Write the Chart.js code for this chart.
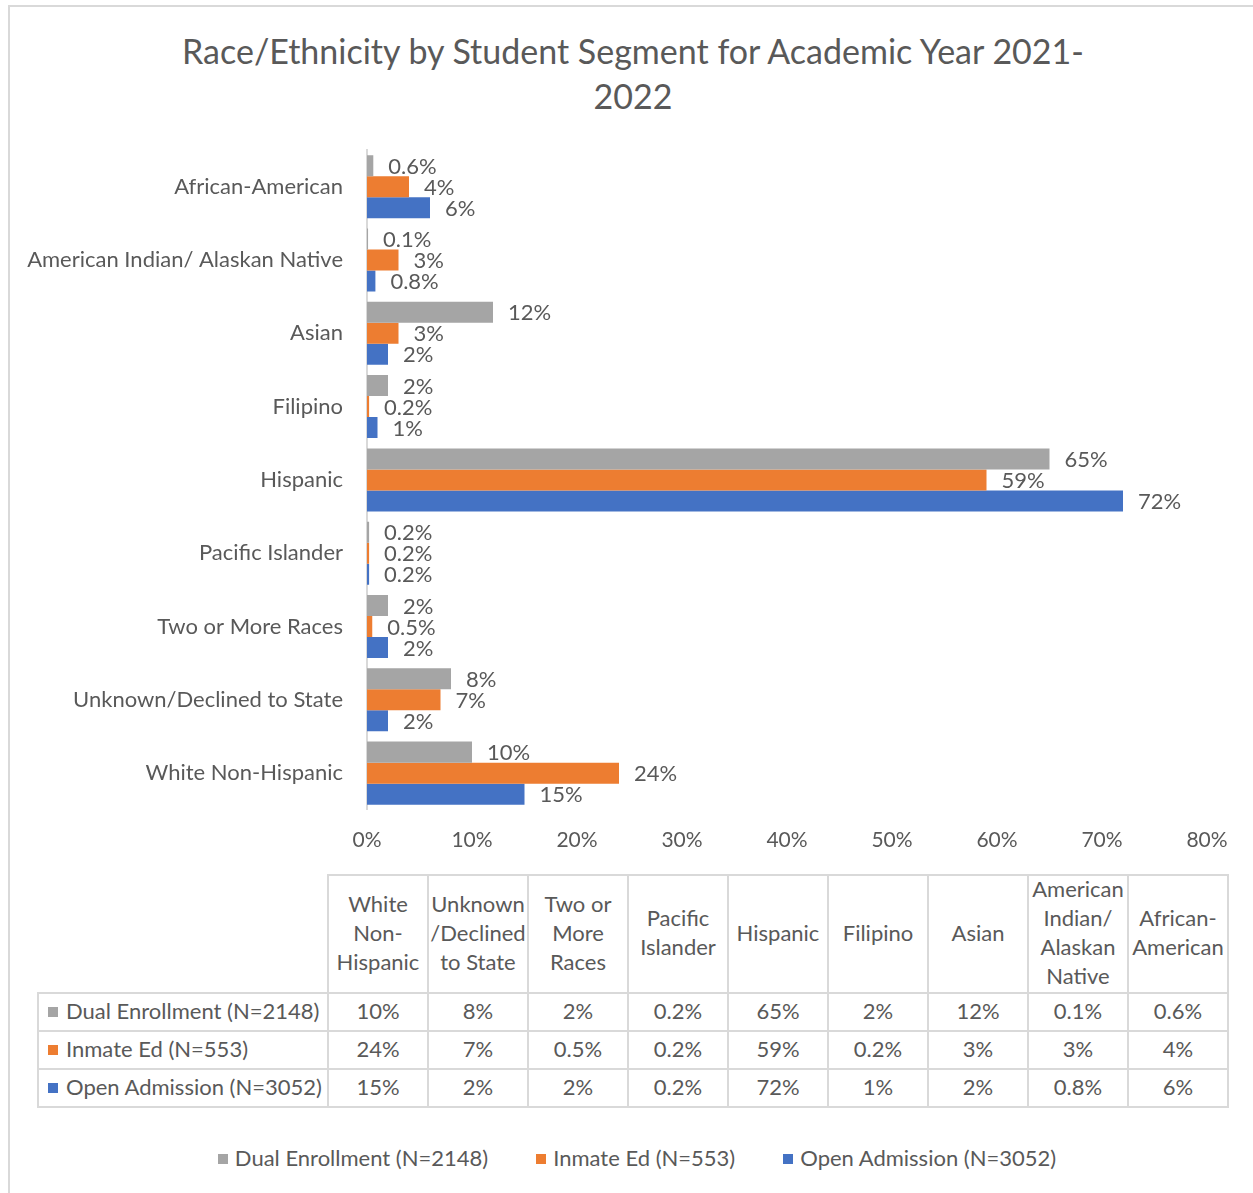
<!DOCTYPE html>
<html>
<head>
<meta charset="utf-8">
<title>Race/Ethnicity by Student Segment</title>
<script src="https://cdn.jsdelivr.net/npm/chart.js@4.4.1/dist/chart.umd.min.js"></script>
<style>
  body { margin: 0; background: #fff; overflow: hidden; font-family: Lato, sans-serif; color: #595959; }
  #frame { position: absolute; left: 8px; top: 5px; width: 1270px; height: 1220px; border: 2px solid #d9d9d9; box-sizing: border-box; }
  #chartTitle { position: absolute; left: 8px; top: 28px; width: 1250px; text-align: center; font-size: 34px; line-height: 45px; color: #595959; }
  #chartBox { position: absolute; left: 8px; top: 6px; width: 1250px; height: 865px; }
  #dataTable { position: absolute; left: 37px; top: 874px; border-collapse: collapse; table-layout: fixed; font-size: 22px; color: #595959; }
  #dataTable td { border: 2px solid #d9d9d9; padding: 0; text-align: center; white-space: nowrap; }
  #dataTable td > div { position: relative; top: -2px; }
  #dataTable tr.head td { height: 112px; line-height: 29px; }
  #dataTable tr.head td.corner { border-top: none; border-left: none; }
  #dataTable tr.row td { height: 36px; }
  #dataTable td.name { text-align: left; padding-left: 9px; }
  .mark { display: inline-block; width: 10px; height: 10px; margin-right: 8px; vertical-align: 2px; }
  #legend { position: absolute; left: 0; top: 1144px; width: 1274px; display: flex; justify-content: center; gap: 48px; font-size: 22px; color: #595959; }
  #legend .mark { margin-right: 7px; }
</style>
</head>
<body>
<div id="frame"></div>
<div id="chartTitle">Race/Ethnicity by Student Segment for Academic Year 2021-<br>2022</div>
<div id="chartBox"><canvas id="chart"></canvas></div>
<table id="dataTable"></table>
<div id="legend"></div>
<script>
// categories in data-table order (the bar axis is reversed so the last one sits on top)
const categories = ['White Non-Hispanic', 'Unknown/Declined to State', 'Two or More Races', 'Pacific Islander',
  'Hispanic', 'Filipino', 'Asian', 'American Indian/ Alaskan Native', 'African-American'];
const headerLines = [['White', 'Non-', 'Hispanic'], ['Unknown', '/Declined', 'to State'], ['Two or', 'More', 'Races'],
  ['Pacific', 'Islander'], ['Hispanic'], ['Filipino'], ['Asian'], ['American', 'Indian/', 'Alaskan', 'Native'], ['African-', 'American']];

const seriesNames = ['Dual Enrollment (N=2148)', 'Inmate Ed (N=553)', 'Open Admission (N=3052)'];
const dualEnrollment = [10, 8, 2, 0.2, 65, 2, 12, 0.1, 0.6];
const inmateEd = [24, 7, 0.5, 0.2, 59, 0.2, 3, 3, 4];
const openAdmission = [15, 2, 2, 0.2, 72, 1, 2, 0.8, 6];
const seriesColors = ['#a5a5a5', '#ed7d31', '#4472c4'];

const xTickValues = [0, 10, 20, 30, 40, 50, 60, 70, 80];

const textColor = '#595959';
const pct = v => v + '%';

const seriesData = [dualEnrollment, inmateEd, openAdmission];

// value labels just past the end of each bar
const barValueLabels = {
  id: 'barValueLabels',
  afterDatasetsDraw(chart) {
    const ctx = chart.ctx;
    ctx.save();
    ctx.font = '22px Lato';
    ctx.fillStyle = textColor;
    ctx.textAlign = 'left';
    ctx.textBaseline = 'middle';
    chart.data.datasets.forEach((ds, i) => {
      chart.getDatasetMeta(i).data.forEach((bar, j) => {
        ctx.fillText(pct(ds.data[j]), bar.x + 15, bar.y + 1);
      });
    });
    ctx.restore();
  }
};

new Chart(document.getElementById('chart'), {
  type: 'bar',
  data: {
    labels: categories,
    datasets: seriesNames.map((name, i) => ({
      label: name,
      data: seriesData[i],
      backgroundColor: seriesColors[i],
      borderWidth: 0,
      categoryPercentage: 0.86,
      barPercentage: 1
    }))
  },
  options: {
    indexAxis: 'y',
    responsive: true,
    maintainAspectRatio: false,
    animation: false,
    layout: { padding: { left: 0, right: 51, top: 144, bottom: 0 } },
    plugins: {
      legend: { display: false },
      tooltip: { enabled: false }
    },
    scales: {
      x: {
        min: 0,
        max: 80,
        afterBuildTicks: scale => { scale.ticks = xTickValues.map(v => ({ value: v })); },
        grid: { display: false, drawTicks: false },
        border: { display: false },
        ticks: { color: textColor, font: { family: 'Lato', size: 21 }, padding: 18, callback: v => pct(v) }
      },
      y: {
        reverse: true,
        z: 1,
        afterFit: scale => { scale.width = 359; },
        grid: { display: false, drawTicks: false },
        border: { display: true, color: '#d9d9d9', width: 2 },
        ticks: { color: textColor, font: { family: 'Lato', size: 22 }, padding: 24 }
      }
    }
  },
  plugins: [barValueLabels]
});

// data table under the chart
const table = document.getElementById('dataTable');
let html = '<colgroup><col style="width:290px">' + categories.map(() => '<col style="width:100px">').join('') + '</colgroup>';
html += '<tr class="head"><td class="corner"></td>' + headerLines.map(l => '<td><div>' + l.join('<br>') + '</div></td>').join('') + '</tr>';
seriesNames.forEach((name, i) => {
  html += '<tr class="row"><td class="name"><div><span class="mark" style="background:' + seriesColors[i] + '"></span>' + name + '</div></td>';
  html += seriesData[i].map(v => '<td><div>' + pct(v) + '</div></td>').join('') + '</tr>';
});
table.innerHTML = html;

// legend
document.getElementById('legend').innerHTML = seriesNames.map((name, i) =>
  '<span><span class="mark" style="background:' + seriesColors[i] + '"></span>' + name + '</span>').join('');
</script>
</body>
</html>
